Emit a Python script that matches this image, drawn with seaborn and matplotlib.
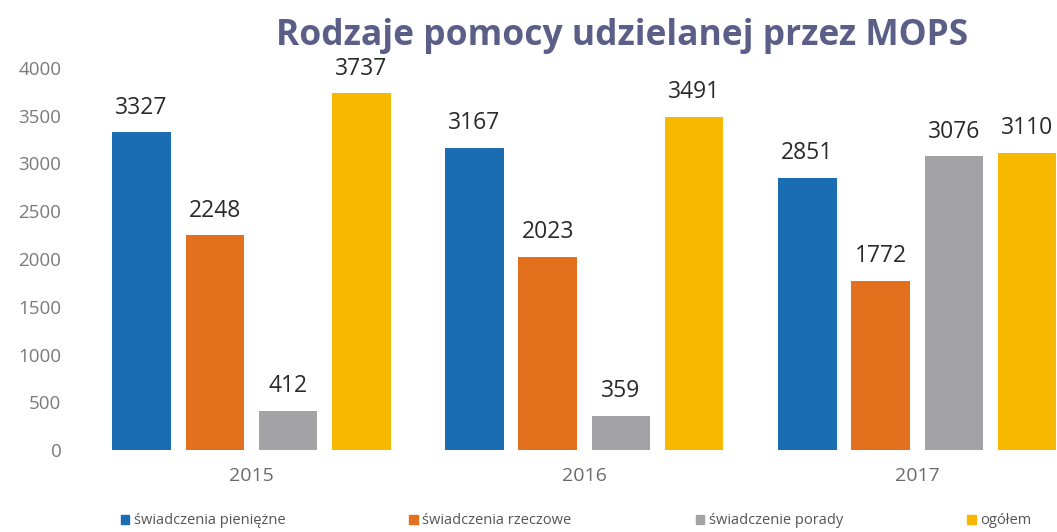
import matplotlib
matplotlib.use("Agg")
import matplotlib.pyplot as plt
import seaborn as sns
import pandas as pd

years = ["2015", "2016", "2017"]
series = ["świadczenia pieniężne", "świadczenia rzeczowe", "świadczenie porady", "ogółem"]
pieniezne = [3327, 3167, 2851]
rzeczowe = [2248, 2023, 1772]
porady = [412, 359, 3076]
ogolem = [3737, 3491, 3110]
colors = ["#1a6db3", "#e2701c", "#a3a3a5", "#f7b900"]

rows = []
for i, y in enumerate(years):
    for s, vals in zip(series, [pieniezne, rzeczowe, porady, ogolem]):
        rows.append({"rok": y, "typ": s, "wartosc": vals[i]})
df = pd.DataFrame(rows)

sns.set_theme(style="white")
plt.rcParams['font.family'] = ['Open Sans', 'DejaVu Sans']

fig = plt.figure(figsize=(10.57, 5.32), dpi=100)
ax = fig.add_axes([85/1057, 82/532, 1 - 85/1057, (450-68)/532])
sns.barplot(data=df, x="rok", y="wartosc", hue="typ", palette=colors,
            width=0.88, gap=0.2, ax=ax, legend=False, saturation=1, linewidth=0)
ax.set_ylim(0, 4000)
ax.set_xlim(-0.5, 2.42)
ax.set_yticks(range(0, 4001, 500))
ax.tick_params(axis='y', labelsize=13.5, colors="#7a7a7a", length=0, pad=17)
ax.tick_params(axis='x', labelsize=14, colors="#6a6a6a", length=0, pad=12)
ax.set_xlabel("")
ax.set_ylabel("")
for sp in ax.spines.values():
    sp.set_visible(False)
for c in ax.containers:
    ax.bar_label(c, padding=9, fontsize=16.5, color="#2a2a2a")

fig.text(622/1057, 1 - 36/532, "Rodzaje pomocy udzielanej przez MOPS", ha="center", va="center",
         fontsize=25.5, fontweight="bold", color="#5b5f88")

from matplotlib.patches import Patch
handles = [Patch(color=c) for c in colors]
fig.legend(handles, series, loc="center", bbox_to_anchor=(576/1057, 1 - 521/532), ncol=4,
           frameon=False, fontsize=10.5, handlelength=0.6, handleheight=0.6,
           columnspacing=8.5, handletextpad=0.3, labelcolor="#555555")

fig.savefig("out.png", dpi=100)
